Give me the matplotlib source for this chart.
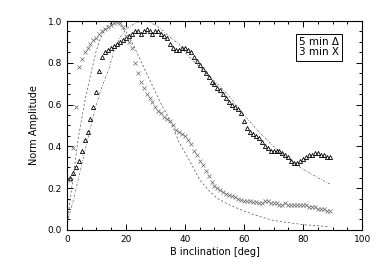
import numpy as np
import matplotlib
matplotlib.use("Agg")
import matplotlib.pyplot as plt
from matplotlib.ticker import MultipleLocator

# inclination bins [deg]
incl = np.arange(1, 90)

# 5 min normalised amplitude (triangles)
amp5 = [0.25, 0.27, 0.30, 0.33, 0.38, 0.43, 0.47, 0.53, 0.59, 0.66,
        0.76, 0.83, 0.85, 0.86, 0.87, 0.88, 0.89, 0.90, 0.91, 0.92,
        0.93, 0.94, 0.95, 0.95, 0.94, 0.95, 0.96, 0.95, 0.94, 0.95,
        0.95, 0.94, 0.93, 0.92, 0.89, 0.87, 0.86, 0.86, 0.87, 0.87,
        0.86, 0.85, 0.83, 0.81, 0.79, 0.77, 0.75, 0.73, 0.71, 0.70,
        0.68, 0.67, 0.65, 0.63, 0.61, 0.60, 0.59, 0.58, 0.56, 0.52,
        0.49, 0.47, 0.46, 0.45, 0.44, 0.42, 0.40, 0.39, 0.38, 0.38,
        0.38, 0.38, 0.37, 0.36, 0.35, 0.33, 0.32, 0.32, 0.33, 0.34,
        0.35, 0.36, 0.36, 0.37, 0.37, 0.36, 0.36, 0.35, 0.35]

# 3 min normalised amplitude (crosses)
amp3 = [0.24, 0.39, 0.59, 0.78, 0.82, 0.85, 0.87, 0.89, 0.91, 0.92,
        0.94, 0.95, 0.96, 0.97, 0.98, 0.99, 1.00, 0.99, 0.97, 0.93,
        0.90, 0.87, 0.80, 0.75, 0.71, 0.68, 0.65, 0.63, 0.61, 0.59,
        0.57, 0.56, 0.54, 0.53, 0.52, 0.50, 0.48, 0.47, 0.46, 0.45,
        0.43, 0.41, 0.38, 0.36, 0.33, 0.31, 0.28, 0.26, 0.23, 0.21,
        0.20, 0.19, 0.18, 0.17, 0.165, 0.16, 0.155, 0.15, 0.145, 0.14,
        0.14, 0.14, 0.135, 0.135, 0.13, 0.13, 0.14, 0.14, 0.13, 0.13,
        0.13, 0.12, 0.12, 0.13, 0.12, 0.12, 0.12, 0.12, 0.12, 0.12,
        0.12, 0.11, 0.11, 0.11, 0.10, 0.10, 0.10, 0.09, 0.09]

# model curves
fit_x = [0, 2, 4, 6, 8, 10, 12, 14, 16, 18, 20, 22, 24, 26, 28, 30,
         32, 34, 36, 38, 40, 42, 45, 48, 51, 55, 60, 65, 70, 75, 80, 85, 89]
fit5 = [0.03, 0.13, 0.25, 0.37, 0.49, 0.60, 0.69, 0.76, 0.86, 0.92, 0.96,
        0.98, 0.995, 1.00, 0.995, 0.98, 0.96, 0.935, 0.91, 0.89, 0.85,
        0.82, 0.78, 0.74, 0.70, 0.64, 0.55, 0.47, 0.40, 0.34, 0.29, 0.25, 0.22]
fit3 = [0.02, 0.24, 0.45, 0.61, 0.74, 0.86, 0.94, 0.98, 1.00, 0.98, 0.95,
        0.90, 0.84, 0.78, 0.72, 0.66, 0.60, 0.55, 0.49, 0.42, 0.37,
        0.32, 0.24, 0.19, 0.15, 0.12, 0.09, 0.065, 0.045, 0.035, 0.025,
        0.02, 0.015]

fig = plt.figure(figsize=(3.82, 2.73), dpi=100)
ax = fig.add_axes([0.175, 0.158, 0.773, 0.765])

ax.plot(fit_x, fit5, color='0.35', lw=0.5, ls=(0, (3, 2, 1, 2)))
ax.plot(fit_x, fit3, color='0.3', lw=0.5, ls=(0, (3, 3)))
ax.plot(incl, amp5, ls='none', marker='^', ms=3.0, mfc='none', mec='black', mew=0.6)
ax.plot(incl, amp3, ls='none', marker='x', ms=3.0, mec='0.4', mew=0.5)

ax.set_xlim(0, 100)
ax.set_ylim(0, 1.0)
ax.xaxis.set_major_locator(MultipleLocator(20))
ax.xaxis.set_minor_locator(MultipleLocator(5))
ax.yaxis.set_major_locator(MultipleLocator(0.2))
ax.yaxis.set_minor_locator(MultipleLocator(0.05))
ax.yaxis.set_major_formatter(plt.FormatStrFormatter('%.1f'))
ax.tick_params(which='both', direction='in', top=True, right=True, labelsize=6.5, width=0.7)
ax.tick_params(which='major', length=4)
ax.tick_params(which='minor', length=2)
for s in ax.spines.values():
    s.set_linewidth(0.8)

ax.set_xlabel('B inclination [deg]', fontsize=7, labelpad=2)
ax.set_ylabel('Norm Amplitude', fontsize=7, labelpad=6)

ax.text(0.785, 0.925, '5 min \u0394\n3 min X', transform=ax.transAxes,
        fontsize=7.5, va='top', ha='left', linespacing=1.1,
        bbox=dict(boxstyle='square,pad=0.3', fc='white', ec='black', lw=0.7))

fig.savefig('out.png', dpi=100)
